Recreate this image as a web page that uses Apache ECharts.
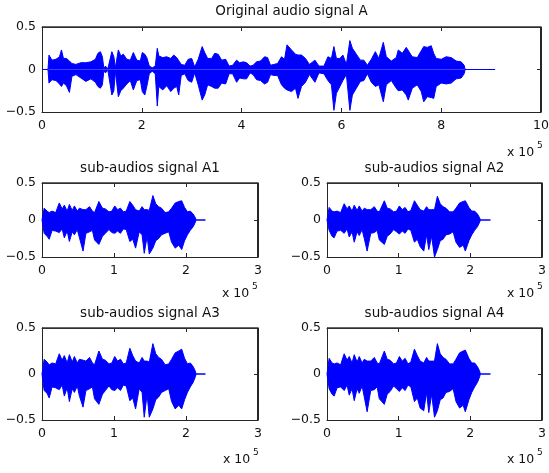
<!DOCTYPE html>
<html><head><meta charset="utf-8">
<script src="https://cdn.jsdelivr.net/npm/echarts@6/dist/echarts.min.js"></script>
<style>html,body{margin:0;padding:0;background:#fff}#c{width:549px;height:473px}</style>
</head><body><div id="c"></div>
<script>
// ---- Data (x in units of 10^5 samples, amplitude envelope) ----
const titles = ['Original audio signal A','sub-audios signal A1','sub-audios signal A2','sub-audios signal A3','sub-audios signal A4'];
const xTicksTop = [0,2,4,6,8,10];
const xTicksSub = [0,1,2,3];
const yTicks = [-0.5,0,0.5];

const topX = [0.00,0.12,0.14,0.20,0.28,0.35,0.39,0.43,0.49,0.55,0.60,0.68,0.78,0.88,0.98,1.07,1.12,1.17,1.21,1.24,1.27,1.32,1.36,1.40,1.44,1.47,1.53,1.58,1.63,1.70,1.77,1.83,1.90,1.97,2.01,2.06,2.10,2.15,2.21,2.27,2.31,2.34,2.42,2.50,2.58,2.64,2.70,2.74,2.79,2.86,2.93,3.00,3.06,3.13,3.21,3.26,3.32,3.40,3.46,3.53,3.60,3.68,3.75,3.82,3.90,3.96,4.04,4.10,4.17,4.23,4.30,4.38,4.46,4.52,4.58,4.65,4.72,4.80,4.86,4.91,5.00,5.08,5.13,5.20,5.28,5.36,5.47,5.55,5.65,5.73,5.80,5.85,5.90,5.97,6.03,6.10,6.17,6.22,6.30,6.38,6.45,6.52,6.60,6.68,6.75,6.84,6.90,7.00,7.10,7.14,7.22,7.30,7.34,7.42,7.52,7.60,7.65,7.72,7.80,7.85,7.90,8.00,8.10,8.20,8.30,8.40,8.46,8.48,9.08];
const topUpper = [0,0,0.17,0.11,0.12,0.15,0.23,0.13,0.13,0.10,0.07,0.06,0.08,0.08,0.09,0.12,0.19,0.21,0.15,0.01,0.04,0.01,0.01,0.21,0.15,0.02,0.23,0.16,0.18,0.12,0.11,0.20,0.11,0.10,0.20,0.18,0.14,0.04,0.02,0.04,0.25,0.16,0.14,0.15,0.13,0.17,0.14,0.16,0.06,0.05,0.12,0.13,0.03,0.12,0.27,0.20,0.13,0.13,0.19,0.18,0.11,0.12,0.04,0.05,0.11,0.08,0.09,0.08,0.04,0.05,0.09,0.10,0.15,0.14,0.05,0.06,0.07,0.15,0.12,0.29,0.23,0.18,0.17,0.17,0.13,0.06,0.11,0.04,0.04,0.15,0.13,0.27,0.13,0.13,0.17,0.06,0.34,0.25,0.18,0.11,0.11,0.05,0.12,0.21,0.13,0.32,0.15,0.10,0.14,0.23,0.19,0.26,0.25,0.15,0.14,0.22,0.27,0.26,0.28,0.19,0.13,0.12,0.15,0.14,0.10,0.09,0.05,0,0];
const topLower = [0,0,-0.16,-0.12,-0.13,-0.17,-0.20,-0.16,-0.19,-0.27,-0.08,-0.06,-0.10,-0.14,-0.11,-0.15,-0.20,-0.22,-0.18,-0.01,-0.04,-0.01,-0.01,-0.30,-0.25,-0.02,-0.32,-0.25,-0.22,-0.17,-0.13,-0.24,-0.13,-0.12,-0.26,-0.30,-0.20,-0.05,-0.02,-0.05,-0.43,-0.20,-0.24,-0.19,-0.26,-0.22,-0.20,-0.30,-0.07,-0.05,-0.13,-0.15,-0.04,-0.18,-0.36,-0.30,-0.18,-0.20,-0.22,-0.22,-0.16,-0.17,-0.05,-0.05,-0.15,-0.10,-0.11,-0.11,-0.04,-0.06,-0.12,-0.13,-0.17,-0.15,-0.06,-0.07,-0.07,-0.18,-0.22,-0.24,-0.26,-0.22,-0.34,-0.20,-0.15,-0.06,-0.15,-0.04,-0.05,-0.13,-0.18,-0.48,-0.28,-0.20,-0.13,-0.06,-0.48,-0.30,-0.22,-0.14,-0.13,-0.05,-0.15,-0.20,-0.18,-0.38,-0.18,-0.13,-0.22,-0.25,-0.24,-0.30,-0.36,-0.22,-0.18,-0.26,-0.38,-0.32,-0.33,-0.34,-0.20,-0.16,-0.17,-0.16,-0.11,-0.10,-0.05,0,0];

const a1X = [0.00,0.02,0.03,0.07,0.10,0.14,0.19,0.24,0.28,0.31,0.35,0.38,0.42,0.45,0.49,0.52,0.57,0.61,0.66,0.70,0.73,0.79,0.84,0.88,0.93,0.97,1.01,1.05,1.09,1.13,1.17,1.22,1.26,1.30,1.35,1.39,1.42,1.46,1.49,1.54,1.58,1.62,1.66,1.71,1.76,1.80,1.85,1.90,1.94,1.98,2.02,2.06,2.10,2.13,2.14,2.27];
const a1Upper = [0,0,0.16,0.12,0.10,0.12,0.10,0.23,0.15,0.20,0.12,0.21,0.13,0.19,0.12,0.16,0.14,0.14,0.18,0.12,0.10,0.25,0.16,0.15,0.11,0.12,0.19,0.14,0.16,0.11,0.12,0.25,0.20,0.14,0.12,0.18,0.14,0.14,0.13,0.33,0.22,0.18,0.16,0.10,0.11,0.16,0.23,0.25,0.26,0.17,0.11,0.12,0.08,0.03,0,0];
const a1Lower = [0,0,-0.18,-0.22,-0.26,-0.14,-0.15,-0.17,-0.12,-0.24,-0.15,-0.29,-0.16,-0.20,-0.13,-0.24,-0.42,-0.18,-0.16,-0.14,-0.27,-0.33,-0.22,-0.18,-0.13,-0.17,-0.18,-0.15,-0.18,-0.12,-0.13,-0.29,-0.26,-0.38,-0.16,-0.20,-0.45,-0.22,-0.46,-0.38,-0.28,-0.25,-0.20,-0.18,-0.16,-0.30,-0.38,-0.34,-0.40,-0.28,-0.20,-0.14,-0.09,-0.03,0,0];

const a2X = [0.00,0.02,0.03,0.07,0.10,0.14,0.19,0.24,0.28,0.31,0.35,0.38,0.42,0.45,0.49,0.52,0.56,0.61,0.66,0.70,0.73,0.80,0.84,0.88,0.93,0.97,1.01,1.05,1.09,1.13,1.17,1.22,1.26,1.30,1.35,1.39,1.42,1.46,1.50,1.54,1.58,1.62,1.66,1.71,1.76,1.80,1.85,1.90,1.93,1.98,2.02,2.06,2.10,2.13,2.14,2.28];
const a2Upper = [0,0,0.17,0.12,0.11,0.12,0.10,0.22,0.15,0.19,0.12,0.20,0.13,0.19,0.12,0.16,0.14,0.14,0.18,0.12,0.11,0.26,0.16,0.15,0.11,0.12,0.19,0.14,0.17,0.11,0.13,0.26,0.20,0.14,0.12,0.18,0.14,0.14,0.14,0.32,0.22,0.18,0.16,0.11,0.11,0.16,0.23,0.25,0.26,0.17,0.12,0.12,0.08,0.03,0,0];
const a2Lower = [0,0,-0.14,-0.22,-0.24,-0.15,-0.14,-0.18,-0.12,-0.23,-0.16,-0.30,-0.16,-0.21,-0.13,-0.25,-0.42,-0.18,-0.17,-0.14,-0.27,-0.33,-0.22,-0.19,-0.13,-0.16,-0.19,-0.15,-0.18,-0.12,-0.14,-0.30,-0.26,-0.36,-0.42,-0.20,-0.40,-0.22,-0.50,-0.40,-0.28,-0.26,-0.20,-0.19,-0.16,-0.30,-0.37,-0.34,-0.42,-0.28,-0.20,-0.14,-0.09,-0.03,0,0];

const a3X = [0.00,0.02,0.03,0.07,0.10,0.14,0.19,0.24,0.28,0.31,0.35,0.38,0.42,0.45,0.49,0.52,0.57,0.61,0.66,0.70,0.73,0.79,0.84,0.88,0.93,0.97,1.01,1.05,1.09,1.13,1.17,1.22,1.26,1.30,1.35,1.39,1.42,1.46,1.49,1.54,1.58,1.62,1.66,1.71,1.76,1.80,1.85,1.90,1.94,1.98,2.02,2.06,2.10,2.13,2.14,2.27];
const a3Upper = [0,0,0.16,0.13,0.10,0.12,0.11,0.22,0.15,0.20,0.12,0.21,0.13,0.19,0.12,0.16,0.15,0.14,0.18,0.12,0.10,0.25,0.16,0.15,0.11,0.12,0.19,0.14,0.16,0.11,0.12,0.28,0.20,0.14,0.12,0.18,0.14,0.14,0.13,0.33,0.22,0.18,0.16,0.10,0.11,0.16,0.23,0.25,0.27,0.17,0.11,0.12,0.08,0.03,0,0];
const a3Lower = [0,0,-0.18,-0.21,-0.26,-0.14,-0.15,-0.17,-0.12,-0.24,-0.15,-0.30,-0.16,-0.20,-0.13,-0.24,-0.36,-0.18,-0.16,-0.14,-0.27,-0.33,-0.22,-0.18,-0.13,-0.17,-0.18,-0.15,-0.18,-0.12,-0.13,-0.29,-0.26,-0.38,-0.16,-0.20,-0.47,-0.22,-0.47,-0.38,-0.28,-0.25,-0.20,-0.18,-0.16,-0.30,-0.38,-0.34,-0.38,-0.28,-0.20,-0.14,-0.09,-0.03,0,0];

const a4X = [0.00,0.02,0.03,0.07,0.10,0.14,0.19,0.24,0.28,0.31,0.35,0.38,0.42,0.45,0.49,0.52,0.56,0.61,0.66,0.70,0.73,0.80,0.84,0.88,0.93,0.97,1.01,1.05,1.09,1.13,1.17,1.22,1.26,1.30,1.35,1.39,1.42,1.46,1.50,1.54,1.58,1.62,1.66,1.71,1.76,1.80,1.85,1.90,1.93,1.98,2.02,2.06,2.10,2.13,2.14,2.28];
const a4Upper = [0,0,0.17,0.12,0.11,0.12,0.10,0.22,0.15,0.19,0.12,0.21,0.13,0.19,0.12,0.16,0.14,0.14,0.18,0.12,0.11,0.25,0.16,0.15,0.11,0.12,0.19,0.14,0.17,0.11,0.13,0.27,0.20,0.14,0.12,0.18,0.14,0.14,0.14,0.33,0.22,0.18,0.16,0.11,0.11,0.16,0.23,0.25,0.26,0.17,0.12,0.12,0.08,0.03,0,0];
const a4Lower = [0,0,-0.16,-0.22,-0.24,-0.15,-0.14,-0.18,-0.12,-0.23,-0.16,-0.29,-0.16,-0.21,-0.13,-0.25,-0.41,-0.18,-0.17,-0.14,-0.27,-0.33,-0.22,-0.19,-0.13,-0.16,-0.19,-0.15,-0.18,-0.12,-0.14,-0.30,-0.26,-0.37,-0.40,-0.20,-0.42,-0.22,-0.47,-0.40,-0.28,-0.26,-0.20,-0.19,-0.16,-0.30,-0.37,-0.34,-0.41,-0.28,-0.20,-0.14,-0.09,-0.03,0,0];

// ---- Layout ----
const FONT = 'DejaVu Sans';
const BLUE = '#0000ff';
const AX = '#262626';
const panels = [
  {x: topX, up: topUpper, lo: topLower, ticks: xTicksTop, grid: {left: 42, top: 27, width: 499, height: 85}, titleY: 11, mult: [507, 153]},
  {x: a1X, up: a1Upper, lo: a1Lower, ticks: xTicksSub, grid: {left: 42, top: 183, width: 216, height: 74}, titleY: 168, mult: [222, 294]},
  {x: a2X, up: a2Upper, lo: a2Lower, ticks: xTicksSub, grid: {left: 327, top: 183, width: 215, height: 74}, titleY: 168, mult: [507, 294]},
  {x: a3X, up: a3Upper, lo: a3Lower, ticks: xTicksSub, grid: {left: 42, top: 328, width: 216, height: 92}, titleY: 313, mult: [223, 460]},
  {x: a4X, up: a4Upper, lo: a4Lower, ticks: xTicksSub, grid: {left: 327, top: 328, width: 215, height: 92}, titleY: 313, mult: [507, 460]}
];

const grids = [], xAxes = [], yAxes = [], series = [], graphics = [];
const minusFmt = v => String(v).replace('-', '\u2212');
const tickStyle = {show: true, inside: true, length: 4, lineStyle: {color: AX, width: 1}};
const lineStyleAx = {show: true, onZero: false, lineStyle: {color: AX, width: 1}};
panels.forEach((p, i) => {
  grids.push(Object.assign({containLabel: false, outerBoundsMode: 'none'}, p.grid));
  const xmax = p.ticks[p.ticks.length - 1];
  const xbase = {type: 'value', gridIndex: i, min: p.ticks[0], max: xmax, interval: p.ticks[1] - p.ticks[0],
    axisLine: lineStyleAx, axisTick: tickStyle, splitLine: {show: false}};
  xAxes.push(Object.assign({}, xbase, {position: 'bottom',
    axisLabel: {show: true, margin: 7, color: '#111', fontFamily: FONT, fontSize: 12.5}}));
  xAxes.push(Object.assign({}, xbase, {position: 'top', axisLabel: {show: false}}));
  const ybase = {type: 'value', gridIndex: i, min: yTicks[0], max: yTicks[yTicks.length - 1], interval: yTicks[1] - yTicks[0],
    axisLine: lineStyleAx, axisTick: tickStyle, splitLine: {show: false}};
  yAxes.push(Object.assign({}, ybase, {position: 'left',
    axisLabel: {show: true, margin: 6, color: '#111', fontFamily: FONT, fontSize: 12.5, formatter: minusFmt}}));
  yAxes.push(Object.assign({}, ybase, {position: 'right', axisLabel: {show: false}}));
  [[p.up, 0], [p.lo, 1]].forEach(([arr, off]) => {
    series.push({type: 'line', xAxisIndex: 2 * i + off, yAxisIndex: 2 * i + off, symbol: 'none', silent: true,
      data: p.x.map((xv, k) => [xv, arr[k]]),
      lineStyle: {color: BLUE, width: 1}, itemStyle: {color: BLUE},
      areaStyle: {color: BLUE, opacity: 1, origin: 0}});
  });
  graphics.push({type: 'text', x: p.grid.left + p.grid.width / 2, y: p.titleY,
    style: {text: titles[i], fill: '#111', font: '13.5px "' + FONT + '"', textAlign: 'center', textVerticalAlign: 'middle'}});
  graphics.push({type: 'text', x: p.mult[0], y: p.mult[1],
    style: {text: 'x 10', fill: '#111', font: '12.5px "' + FONT + '"', textAlign: 'left', textVerticalAlign: 'middle'}});
  graphics.push({type: 'text', x: p.mult[0] + 30, y: p.mult[1] - 7,
    style: {text: '5', fill: '#111', font: '9px "' + FONT + '"', textAlign: 'left', textVerticalAlign: 'middle'}});
});

const chart = echarts.init(document.getElementById('c'), null, {renderer: 'canvas'});
chart.setOption({animation: false, backgroundColor: '#fff', grid: grids, xAxis: xAxes, yAxis: yAxes, series: series, graphic: graphics});

// Frame box on its own top layer, placed through the axes' own scales (soft 2-px edge like the reference)
const extra = [];
panels.forEach((p, i) => {
  const g = p.grid;
  const xmax = p.ticks[p.ticks.length - 1];
  const ymax = yTicks[yTicks.length - 1];
  let xL = chart.convertToPixel({xAxisIndex: 2 * i}, p.ticks[0]);
  let xR = chart.convertToPixel({xAxisIndex: 2 * i}, xmax);
  let yT = chart.convertToPixel({yAxisIndex: 2 * i}, ymax);
  let yB = chart.convertToPixel({yAxisIndex: 2 * i}, yTicks[0]);
  if (!isFinite(xL) || !isFinite(xR) || !isFinite(yT) || !isFinite(yB) || Math.abs(xR - xL) < 10 || Math.abs(yB - yT) < 10) {
    xL = g.left; xR = g.left + g.width; yT = g.top; yB = g.top + g.height;
  }
  const L = Math.round(Math.min(xL, xR)), T = Math.round(Math.min(yT, yB));
  const R = Math.round(Math.max(xL, xR)), B = Math.round(Math.max(yT, yB));
  extra.push({type: 'line', zlevel: 1, z: 100, silent: true, shape: {x1: L, y1: T, x2: R, y2: T},
    style: {stroke: '#333', lineWidth: 1.4}});
  extra.push({type: 'line', zlevel: 1, z: 100, silent: true, shape: {x1: R - 0.5, y1: T, x2: R - 0.5, y2: B},
    style: {stroke: AX, lineWidth: 1}});
});
chart.setOption({graphic: {elements: graphics.concat(extra)}});
</script></body></html>
